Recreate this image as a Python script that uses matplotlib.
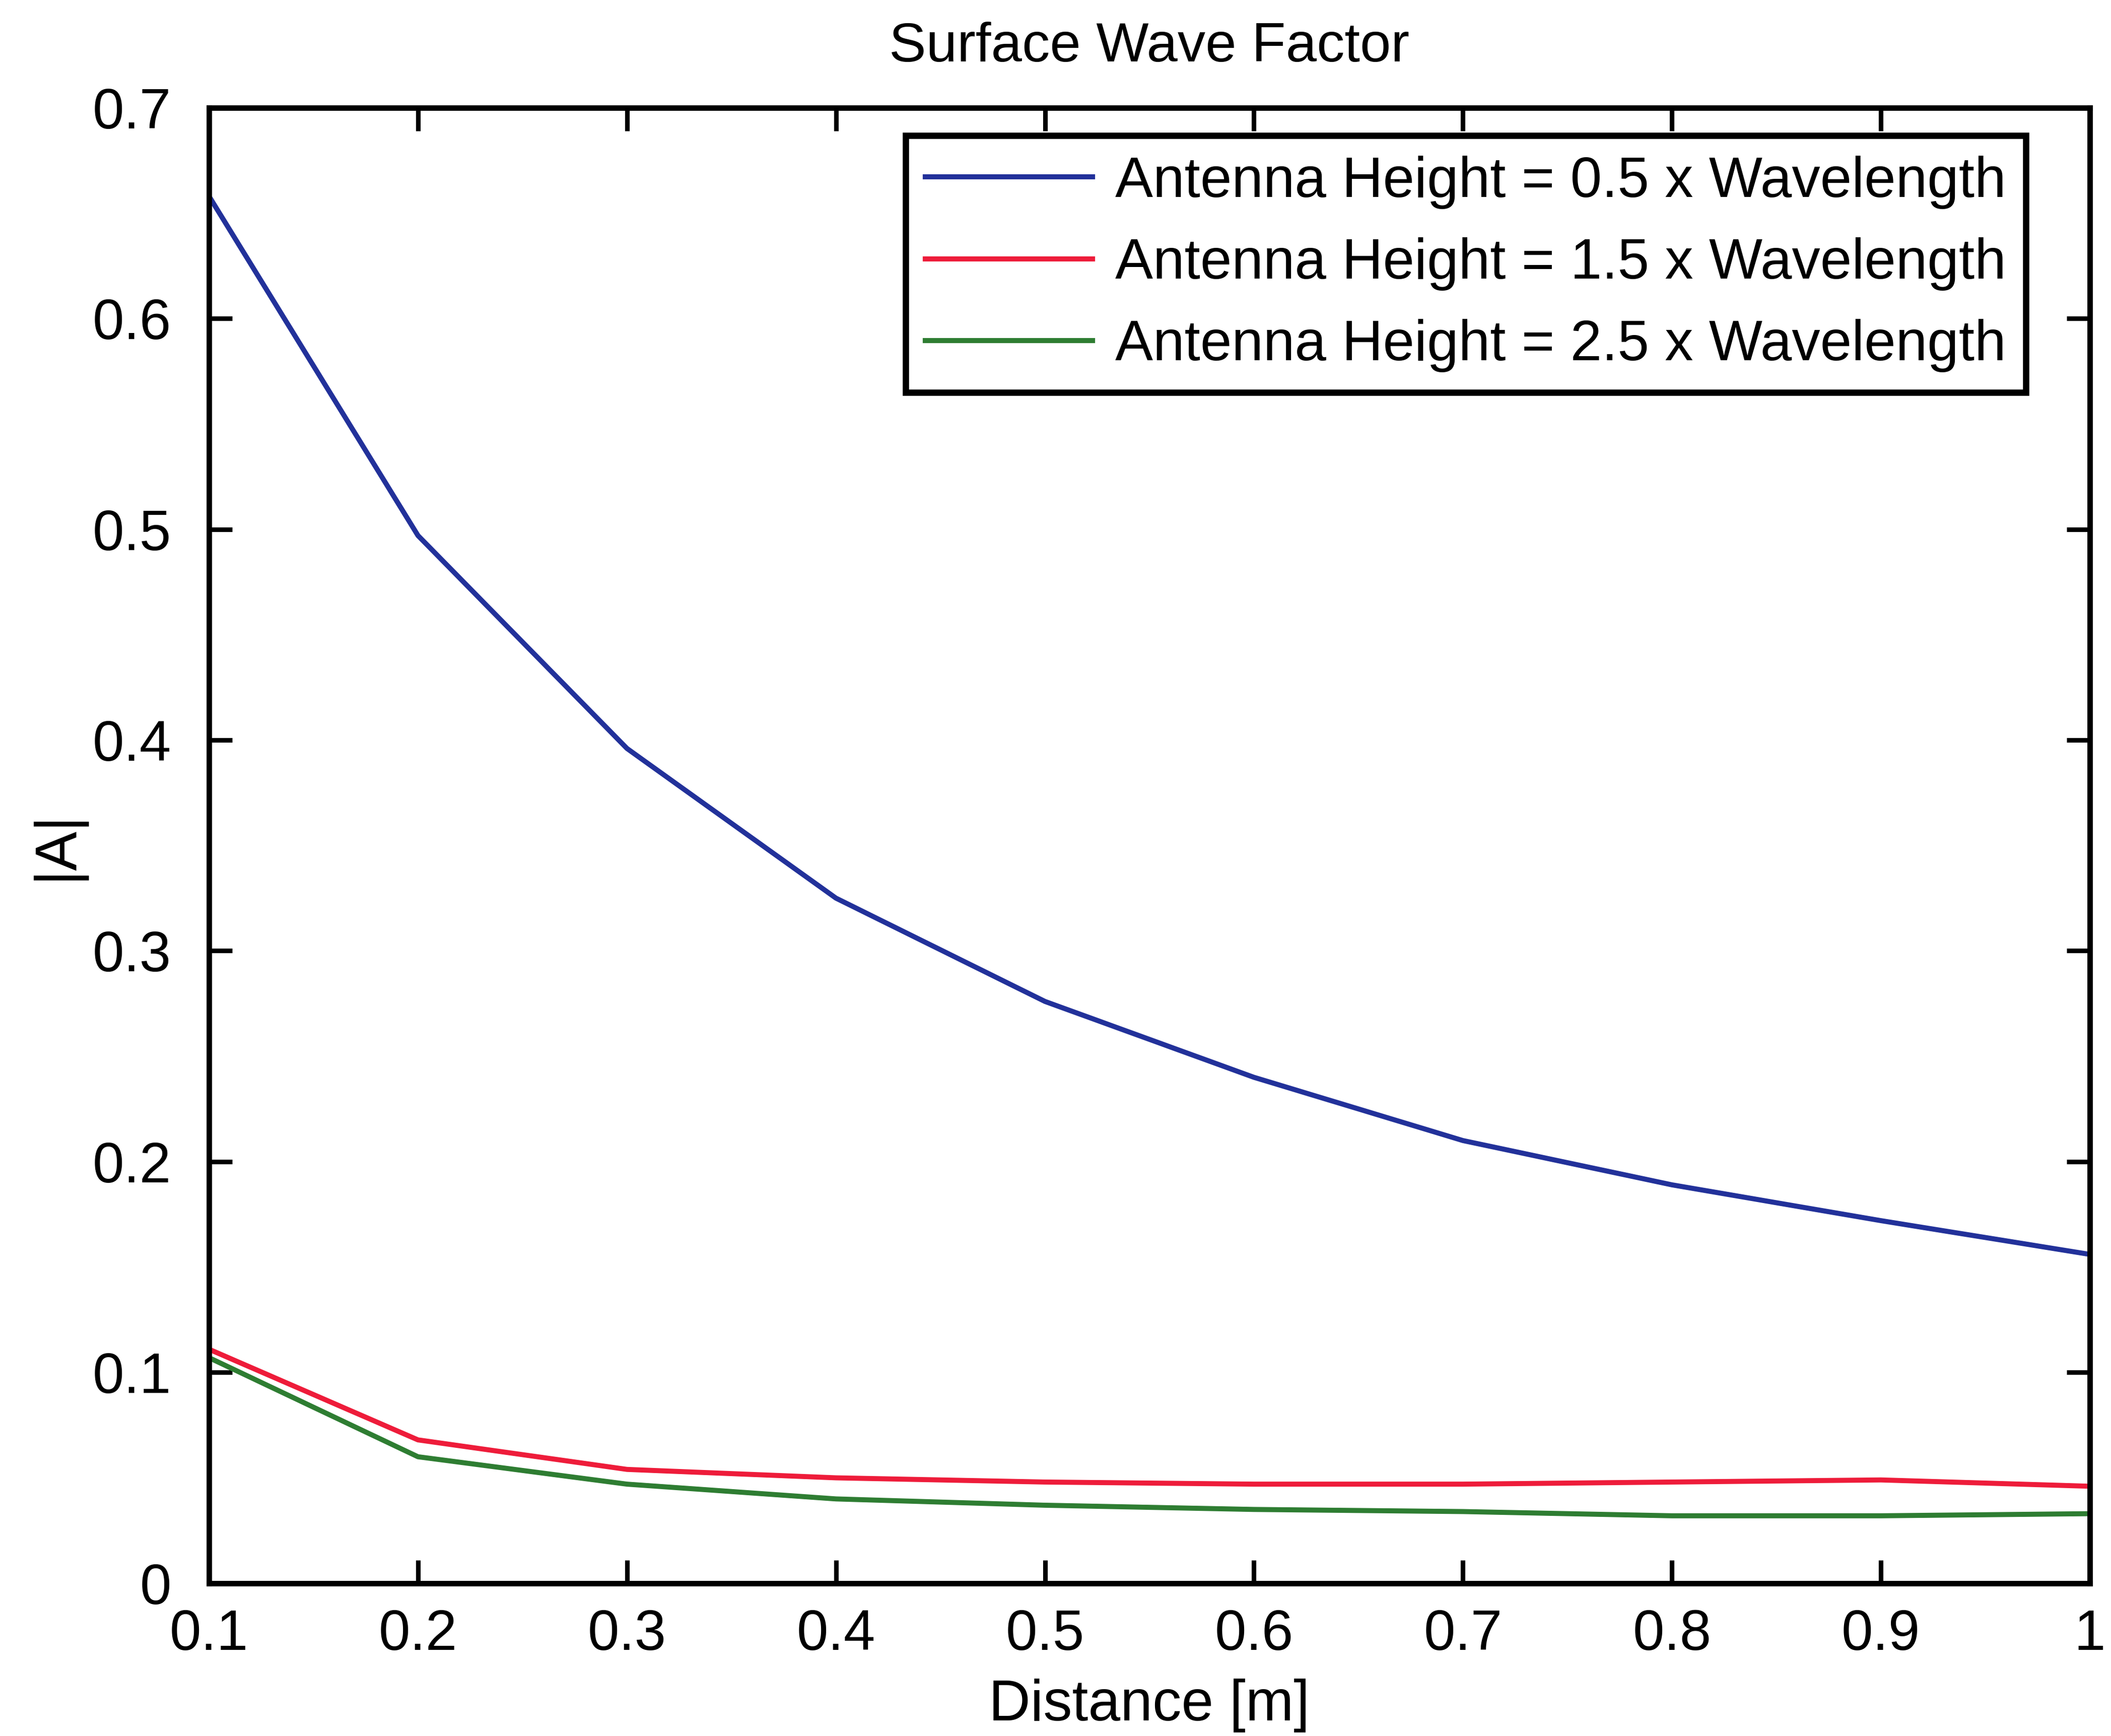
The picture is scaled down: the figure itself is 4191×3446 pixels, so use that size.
import numpy as np
import matplotlib
matplotlib.use("Agg")
import matplotlib.pyplot as plt

plt.rcParams['font.family'] = ['Liberation Sans', 'DejaVu Sans']

# distance [m]
distance = [0.1, 0.2, 0.3, 0.4, 0.5, 0.6, 0.7, 0.8, 0.9, 1.0]
# |A|
h05 = [0.658, 0.497, 0.396, 0.325, 0.276, 0.240, 0.210, 0.189, 0.172, 0.156]
h15 = [0.111, 0.068, 0.054, 0.050, 0.048, 0.047, 0.047, 0.048, 0.049, 0.046]
h25 = [0.107, 0.060, 0.047, 0.040, 0.037, 0.035, 0.034, 0.032, 0.032, 0.033]
labels = ["Antenna Height = 0.5 x Wavelength",
          "Antenna Height = 1.5 x Wavelength",
          "Antenna Height = 2.5 x Wavelength"]
colors = ["#22319a", "#ee1c3a", "#2e7d32"]

fig = plt.figure(figsize=(4191/300, 3446/300), dpi=300)
ax = fig.add_axes([0.099, 0.088, 0.891, 0.850])

for y, lab, c in zip([h05, h15, h25], labels, colors):
    ax.plot(distance, y, color=c, lw=2.4, label=lab)

ax.set_xlim(0.1, 1.0)
ax.set_ylim(0, 0.7)
ax.set_xticks(distance)
ax.set_xticklabels(["0.1", "0.2", "0.3", "0.4", "0.5", "0.6", "0.7", "0.8", "0.9", "1"])
ax.set_yticks([0, 0.1, 0.2, 0.3, 0.4, 0.5, 0.6, 0.7])
ax.set_yticklabels(["0", "0.1", "0.2", "0.3", "0.4", "0.5", "0.6", "0.7"])
ax.tick_params(axis="both", direction="in", length=11, width=2.2, labelsize=27,
               top=True, right=True)
ax.tick_params(axis="y", pad=18)
ax.tick_params(axis="x", pad=12)
for s in ax.spines.values():
    s.set_linewidth(2.6)

ax.set_title("Surface Wave Factor", fontsize=26.5, pad=22)
ax.set_xlabel("Distance [m]", fontsize=27.5, labelpad=8)
ax.set_ylabel("|A|", fontsize=28, labelpad=4)

leg = ax.legend(loc="upper right", bbox_to_anchor=(0.966, 0.981), borderaxespad=0,
                fontsize=27, frameon=True, fancybox=False, edgecolor="black",
                handlelength=2.95, handletextpad=0.4, labelspacing=0.5,
                borderpad=0.35, framealpha=1)
leg.get_frame().set_linewidth(3)

fig.savefig("out.png", dpi=300)
